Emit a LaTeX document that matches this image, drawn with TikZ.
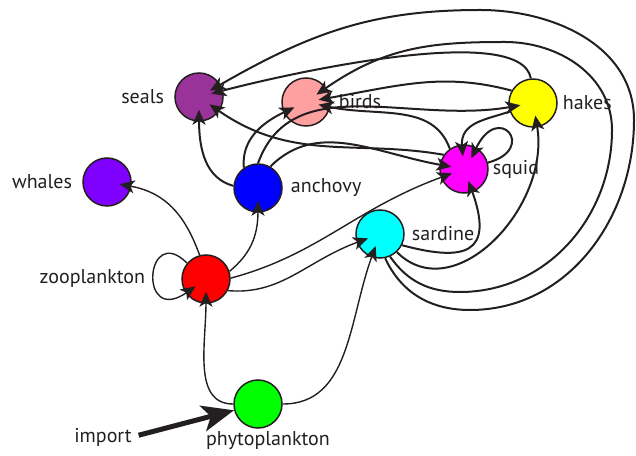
\documentclass[tikz,border=0pt]{standalone}
\usepackage{fontspec}
\setmainfont{PT Sans}
\usetikzlibrary{arrows.meta, positioning}
\definecolor{inkgray}{HTML}{231F20}
\definecolor{sealcol}{HTML}{993399}
\definecolor{birdcol}{HTML}{FFA0A0}
\definecolor{hakecol}{HTML}{FFFF00}
\definecolor{whalecol}{HTML}{7F00FF}
\definecolor{anchcol}{HTML}{0000FF}
\definecolor{squidcol}{HTML}{FF00FF}
\definecolor{sardcol}{HTML}{00FFFF}
\definecolor{zoocol}{HTML}{FF0000}
\definecolor{phytocol}{HTML}{00FF00}
\tikzset{
    species/.style={circle, draw=inkgray, line width=1.5pt, minimum size=48pt, inner sep=0pt},
    splabel/.style={inner sep=0pt, font=\fontsize{20}{23}\selectfont, text=inkgray},
    flow/.style={-{Stealth[length=15pt, width=13pt, inset=4pt]}, line width=2pt, inkgray, shorten >=-12pt},
    thinflow/.style={flow, line width=1.4pt},
    importflow/.style={-{Stealth[length=32pt, width=26pt, inset=8pt]}, line width=5pt, inkgray, shorten <=7pt},
}

\begin{document}
\begin{tikzpicture}[x=1pt, y=1pt]
    \useasboundingbox (0,0) rectangle (636,455);

    \node[species, fill=sealcol] (seals) at (199,358) {};
    \node[species, fill=birdcol] (birds) at (306,353) {};
    \node[species, fill=hakecol] (hakes) at (533,352) {};
    \node[species, fill=whalecol] (whales) at (107,273) {};
    \node[species, fill=anchcol] (anchovy) at (258,267) {};
    \node[species, fill=squidcol] (squid) at (464,286) {};
    \node[species, fill=sardcol] (sardine) at (380,221) {};
    \node[species, fill=zoocol] (zoo) at (206,176) {};
    \node[species, fill=phytocol] (phyto) at (258,51) {};

    \node[splabel, left=10pt of seals] (sealsname) {seals};
    \node[splabel, right=8pt of birds] (birdsname) {birds};
    \node[splabel, right=5pt of hakes] (hakesname) {hakes};
    \node[splabel, left=10pt of whales] (whalesname) {whales};
    \node[splabel, right=8pt of anchovy] (anchovyname) {anchovy};
    \node[splabel, right=4pt of squid] (squidname) {squid};
    \node[splabel, right=7pt of sardine] (sardinename) {sardine};
    \node[splabel, left=36pt of zoo] (zooname) {zooplankton};
    \node[splabel, below=3pt of phyto, xshift=10pt] (phytoname) {phytoplankton};
    \node[splabel] (import) at (103,18) {import};

    \draw[importflow] (import.east) -- (phyto);
    \draw[thinflow] (phyto.180) to[out=180, in=-90] (zoo);
    \draw[thinflow] (phyto.0) to[out=0, in=-110] (sardine);

    \draw[thinflow] (zoo.140) to[out=135, in=215, looseness=5] (zoo.215);
    \draw[thinflow] (zoo.105) to[out=110, in=-10] (whales);
    \draw[thinflow] (zoo.18) to[out=40, in=-90] (anchovy);
    \draw[thinflow] (zoo.2) to[out=15, in=200] (squid);
    \draw[thinflow] (zoo.-28) to[out=-5, in=200] (sardine);

    \draw[flow] (anchovy.175) to[out=165, in=-90] (seals);
    \draw[flow] (anchovy.125) to[out=95, in=205] (birds);
    \draw[flow] (anchovy.90) to[out=70, in=190] (hakes);
    \draw[flow] (anchovy.60) to[out=45, in=170] (squid);

    \draw[flow] (squid.145) to[out=170, in=-35] (seals);
    \draw[flow] (squid.125) to[out=110, in=-12] (birds);
    \draw[flow] (squid.15) to[out=15, in=65, looseness=7] (squid.60);
    \draw[flow] (hakes.200) to[out=200, in=95] (squid);
    \draw[flow] (hakes.150) to[out=165, in=10] (birds);
    \draw[flow] (hakes.95) to[out=100, in=15, out looseness=0.5, in looseness=0.4] (seals);

    \draw[flow] (sardine.-27) to[out=-15, in=-70, looseness=1.9] (squid);
    \draw[flow] (sardine.-47) to[out=-45, in=-80, looseness=1.1] (hakes);
    \draw[flow] (sardine.-66) to[out=-55, in=180] (460,163) to[out=0, in=-90] (612,325)
        to[out=90, in=0] (505,413) to[out=180, in=35] (birds);
    \draw[flow] (sardine.-78) to[out=-65, in=180] (470,145) to[out=0, in=-90] (634,335)
        to[out=90, in=0] (480,445) to[out=180, in=30] (seals);
\end{tikzpicture}
\end{document}
